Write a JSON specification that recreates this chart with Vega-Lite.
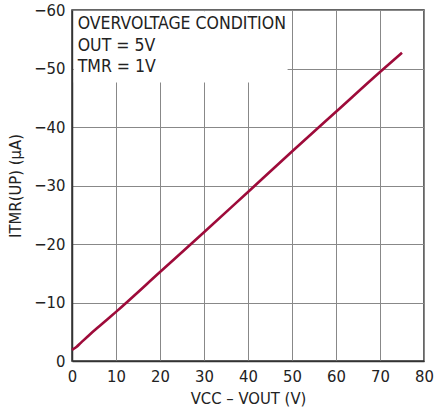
{
  "$schema": "https://vega.github.io/schema/vega-lite/v6.json",
  "width": 352,
  "height": 351,
  "autosize": "none",
  "padding": {"left": 72, "top": 10, "right": 10, "bottom": 59},
  "background": "white",
  "config": {
    "font": "DejaVu Sans Condensed, Roboto, sans-serif",
    "view": {"stroke": "#333333", "strokeWidth": 1.5},
    "axis": {
      "labelFont": "DejaVu Sans Condensed, Roboto, sans-serif",
      "titleFont": "DejaVu Sans Condensed, Roboto, sans-serif",
      "labelFontSize": 16.5,
      "titleFontSize": 16.5,
      "labelColor": "#222222",
      "titleColor": "#222222",
      "titleFontWeight": "normal",
      "gridColor": "#888888",
      "gridWidth": 1,
      "gridOpacity": 1,
      "domainColor": "#333333",
      "domainWidth": 1.5,
      "ticks": false,
      "labelPadding": 7
    }
  },
  "datasets": {
    "curve": [
      {"v": 0, "i": -1.9},
      {"v": 1, "i": -2.4},
      {"v": 2, "i": -3.1},
      {"v": 4, "i": -4.5},
      {"v": 6, "i": -5.8},
      {"v": 8, "i": -7.1},
      {"v": 10, "i": -8.4},
      {"v": 20, "i": -15.2},
      {"v": 30, "i": -22.0},
      {"v": 40, "i": -28.9},
      {"v": 50, "i": -35.8},
      {"v": 60, "i": -42.6},
      {"v": 70, "i": -49.4},
      {"v": 75, "i": -52.7}
    ],
    "box": [{"x0": 0.4, "x1": 49, "y0": -59.8, "y1": -47.6}],
    "notes": [
      {"t": "OVERVOLTAGE CONDITION", "x": 1.3, "y": -57.6},
      {"t": "OUT = 5V", "x": 1.3, "y": -53.9},
      {"t": "TMR = 1V", "x": 1.3, "y": -50.2}
    ]
  },
  "layer": [
    {
      "data": {"name": "curve"},
      "mark": {"type": "line", "color": "#9e0b3a", "strokeWidth": 2.6, "interpolate": "monotone"},
      "encoding": {
        "x": {
          "field": "v", "type": "quantitative",
          "scale": {"domain": [0, 80], "nice": false, "zero": false},
          "axis": {"values": [0,10,20,30,40,50,60,70,80], "title": "VCC – VOUT (V)", "titlePadding": 6, "labelFlush": false}
        },
        "y": {
          "field": "i", "type": "quantitative",
          "scale": {"domain": [0, -60], "nice": false, "zero": false},
          "axis": {
            "values": [0,-10,-20,-30,-40,-50,-60],
            "title": "ITMR(UP) (μA)",
            "titlePadding": 10,
            "labelExpr": "datum.value < 0 ? '−' + abs(datum.value) : '' + datum.value"
          }
        }
      }
    },
    {
      "data": {"name": "box"},
      "mark": {"type": "rect", "fill": "white"},
      "encoding": {
        "x": {"field": "x0", "type": "quantitative"},
        "x2": {"field": "x1"},
        "y": {"field": "y0", "type": "quantitative"},
        "y2": {"field": "y1"}
      }
    },
    {
      "data": {"name": "notes"},
      "mark": {"type": "text", "align": "left", "baseline": "middle", "fontSize": 17.5, "font": "DejaVu Sans Condensed, Roboto, sans-serif", "color": "#222222"},
      "encoding": {
        "x": {"field": "x", "type": "quantitative"},
        "y": {"field": "y", "type": "quantitative"},
        "text": {"field": "t"}
      }
    }
  ]
}
